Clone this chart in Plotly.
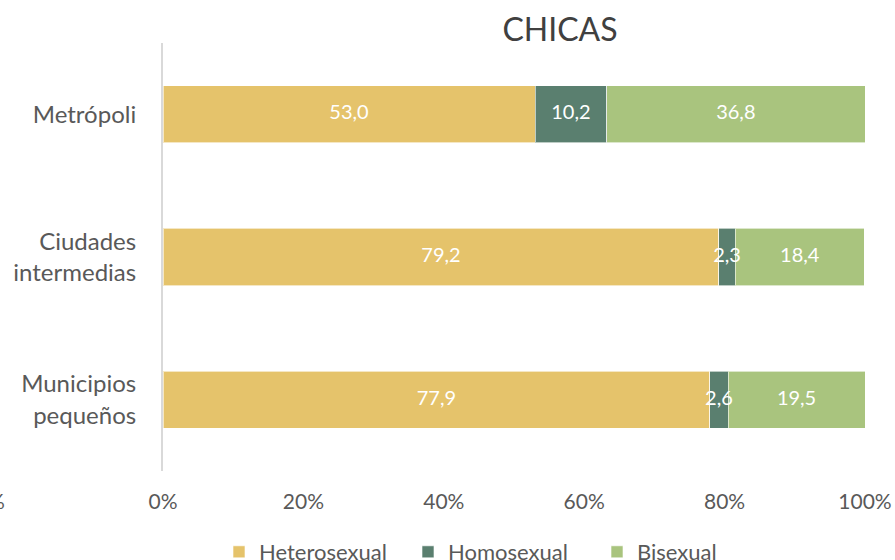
import plotly.graph_objects as go

categories = ["Metrópoli", "Ciudades<br>intermedias", "Municipios<br>pequeños"]
heterosexual = [53.0, 79.2, 77.9]
homosexual = [10.2, 2.3, 2.6]
bisexual = [36.8, 18.4, 19.5]
x_ticks = [0, 20, 40, 60, 80, 100]
x_tick_labels = ["0%", "20%", "40%", "60%", "80%", "100%"]

series = [
    ("Heterosexual", heterosexual, "#E5C36B"),
    ("Homosexual", homosexual, "#5A7F6F"),
    ("Bisexual", bisexual, "#A9C47E"),
]

font_family = "Lato, 'Open Sans', sans-serif"

W, H = 895, 560
L, R, T, B = 163, 30, 43, 89
plot_w = W - L - R
plot_h = H - T - B

fig = go.Figure()
base = [0.0] * len(categories)
label_x, label_y, label_t = [], [], []
for name, vals, color in series:
    fig.add_trace(go.Bar(
        y=categories, x=vals, name=name, orientation="h",
        marker=dict(color=color, line=dict(color="rgba(255,255,255,0.6)", width=1)),
        hoverinfo="skip",
    ))
    for i, v in enumerate(vals):
        label_x.append(base[i] + v / 2)
        label_y.append(categories[i])
        label_t.append(f"{v:.1f}".replace(".", ","))
        base[i] += v

fig.add_trace(go.Scatter(
    x=label_x, y=label_y, text=label_t, mode="text", showlegend=False,
    textposition="middle center", hoverinfo="skip",
    textfont=dict(color="white", size=20, family=font_family),
))

fig.update_layout(
    barmode="stack",
    bargap=0.6,
    width=W, height=H,
    margin=dict(l=L, r=R, t=T, b=B, autoexpand=False),
    paper_bgcolor="white", plot_bgcolor="white",
    font=dict(family=font_family, color="#595959"),
    title=dict(text="CHICAS", x=(560 - L) / plot_w, xref="paper", xanchor="center",
               y=1 - 30 / H, yref="container", yanchor="middle",
               font=dict(size=32, color="#404040", family=font_family)),
    legend=dict(orientation="h", x=(219 - L) / plot_w, xanchor="left",
                y=-(552 - 471) / plot_h, yanchor="middle",
                font=dict(size=22, color="#595959", family=font_family),
                traceorder="normal", itemwidth=30, entrywidth=144),
    xaxis=dict(range=[0, 100], tickvals=x_ticks, ticktext=x_tick_labels, automargin=False,
               showgrid=False, zeroline=False, showline=False,
               tickfont=dict(size=21, color="#595959"), ticklabelstandoff=16),
    yaxis=dict(categoryorder="array", categoryarray=categories, autorange="reversed", automargin=False,
               showgrid=False, zeroline=False, showline=True, linecolor="#D9D9D9", linewidth=2,
               tickfont=dict(size=24, color="#595959"), ticklabelstandoff=20),
    annotations=[dict(text="%", xref="paper", yref="paper", x=(7 - L) / plot_w,
                      y=-(500 - 471) / plot_h,
                      xanchor="right", yanchor="middle", showarrow=False,
                      font=dict(size=21, color="#595959"))],
)

fig.write_html("out.html", config={"displayModeBar": False},
               post_script="document.body.style.margin='0px';")
